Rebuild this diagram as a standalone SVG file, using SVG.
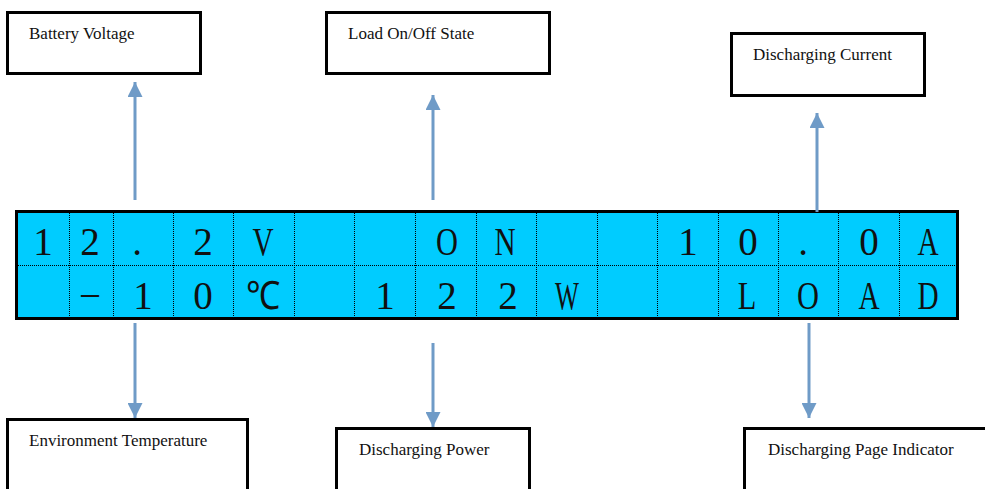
<svg xmlns="http://www.w3.org/2000/svg" width="985" height="489" viewBox="0 0 985 489">
<defs>
<style>
.box{fill:#fff;stroke:#000;stroke-width:3}
.lbl{font-family:"Liberation Serif",serif;font-size:17px;fill:#111}
.lcd{font-family:"Liberation Serif",serif;font-size:39px;fill:#111;text-anchor:middle}
.grid{stroke:#000;stroke-width:1;stroke-dasharray:1 1;fill:none}
.conn{stroke:#6f9bc7;stroke-width:3;fill:none}
</style>
<marker id="ah" viewBox="0 0 16 15" refX="15" refY="7.5" markerWidth="16" markerHeight="15" markerUnits="userSpaceOnUse" orient="auto">
<path d="M0,0 L15,7.5 L0,15 Z" fill="#6f9bc7"/>
</marker>
</defs>
<rect width="985" height="489" fill="#fff"/>
<g id="lcd">
<rect x="16.5" y="211.5" width="941" height="107" fill="#00ccff" stroke="#000" stroke-width="3"/>
<path class="grid" d="M18,265.5H956 M69.5,213V317 M113.5,213V317 M173.5,213V317 M233.5,213V317 M294.5,213V317 M354.5,213V317 M415.5,213V317 M476.5,213V317 M536.5,213V317 M597.5,213V317 M657.5,213V317 M718.5,213V317 M778.5,213V317 M838.5,213V317 M899.5,213V317"/>
<g class="lcd">
<text x="43" y="255">1</text><text x="90" y="255">2</text><text x="137" y="255">.</text><text x="203" y="255">2</text><text transform="matrix(0.75,0,0,1,263,255)">V</text>
<text transform="matrix(0.78,0,0,1,447,255)">O</text><text transform="matrix(0.75,0,0,1,505,255)">N</text>
<text x="688" y="255">1</text><text x="748" y="255">0</text><text x="803" y="255">.</text><text x="869" y="255">0</text><text transform="matrix(0.75,0,0,1,928,255)">A</text>
<text x="90" y="309">−</text><text x="143" y="309">1</text><text x="203" y="309">0</text><text transform="matrix(0.88,0,0,1,263,309)">℃</text>
<text x="385" y="309">1</text><text x="447" y="309">2</text><text x="508" y="309">2</text><text transform="matrix(0.65,0,0,1,567,309)">W</text>
<text transform="matrix(0.78,0,0,1,747,309)">L</text><text transform="matrix(0.78,0,0,1,808,309)">O</text><text transform="matrix(0.75,0,0,1,869,309)">A</text><text transform="matrix(0.75,0,0,1,928,309)">D</text>
</g>
</g>
<g id="battery-voltage"><rect class="box" x="7.5" y="12.5" width="193" height="61"/><text class="lbl" x="29" y="39">Battery Voltage</text></g>
<g id="load-state"><rect class="box" x="326.5" y="12.5" width="223" height="61"/><text class="lbl" x="348" y="39">Load On/Off State</text></g>
<g id="discharging-current"><rect class="box" x="731.5" y="33.5" width="193" height="62"/><text class="lbl" x="753" y="60">Discharging Current</text></g>
<g id="env-temp"><rect class="box" x="7.5" y="419.5" width="240" height="75"/><text class="lbl" x="29" y="446">Environment Temperature</text></g>
<g id="discharging-power"><rect class="box" x="336.5" y="428.5" width="193" height="66"/><text class="lbl" x="359" y="455">Discharging Power</text></g>
<g id="page-indicator"><rect class="box" x="744.5" y="428.5" width="245" height="66"/><text class="lbl" x="768" y="455">Discharging Page Indicator</text></g>
<g id="connectors">
<line class="conn" x1="135" y1="200" x2="135" y2="82" marker-end="url(#ah)"/>
<line class="conn" x1="433" y1="200" x2="433" y2="95" marker-end="url(#ah)"/>
<line class="conn" x1="817" y1="212" x2="817" y2="113" marker-end="url(#ah)"/>
<line class="conn" x1="135" y1="323" x2="135" y2="418" marker-end="url(#ah)"/>
<line class="conn" x1="433" y1="343" x2="433" y2="427" marker-end="url(#ah)"/>
<line class="conn" x1="809" y1="323" x2="809" y2="418" marker-end="url(#ah)"/>
</g>
</svg>
